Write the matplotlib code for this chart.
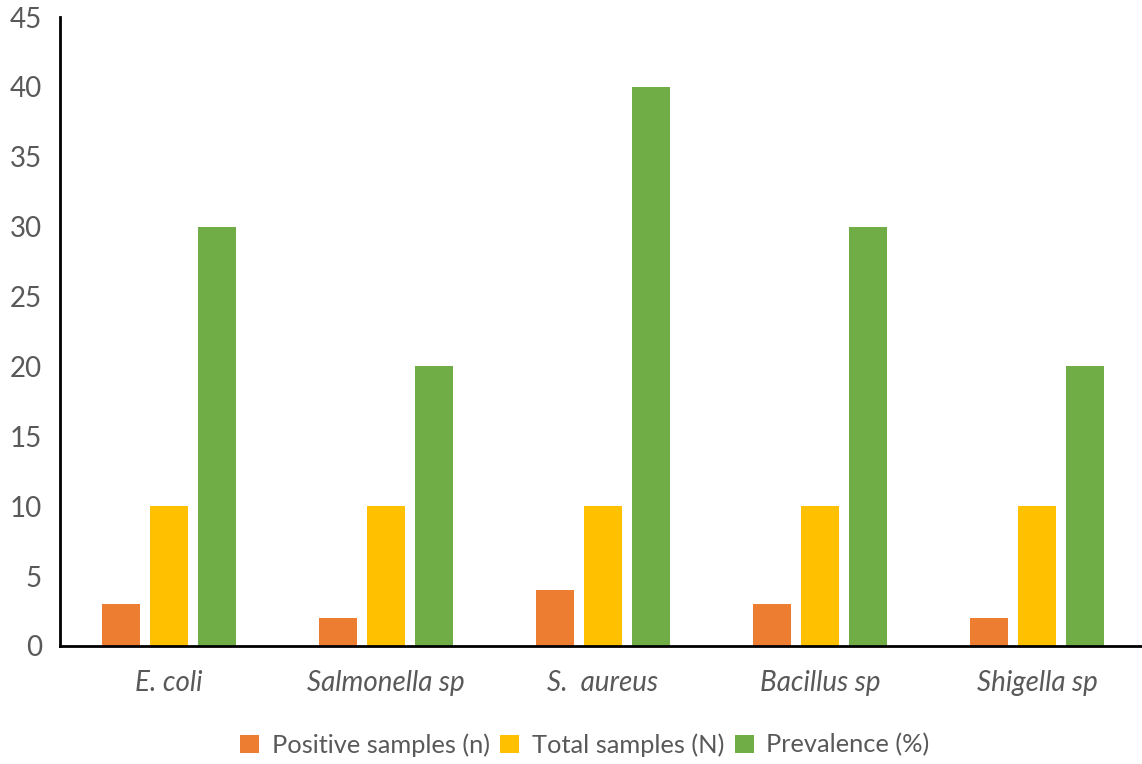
import matplotlib.pyplot as plt
import numpy as np

# bacterial isolates and counts
organisms = ['E. coli', 'Salmonella sp', 'S.  aureus', 'Bacillus sp', 'Shigella sp']
positive = [3, 2, 4, 3, 2]
total = [10, 10, 10, 10, 10]
prevalence = [30, 20, 40, 30, 20]

series = [
    ('Positive samples (n)', positive, '#ED7D31'),
    ('Total samples (N)', total, '#FFC000'),
    ('Prevalence (%)', prevalence, '#70AD47'),
]

plt.rcParams['font.family'] = ['Lato', 'DejaVu Sans']

fig = plt.figure(figsize=(11.42, 7.64), dpi=100)
ax = fig.add_axes([60 / 1142, 1 - 646 / 764, 1086 / 1142, 629 / 764])

x = np.arange(len(organisms))
bar_w = 38 / 217
step = 48 / 217
for i, (label, vals, color) in enumerate(series):
    ax.bar(x + (i - 1) * step, vals, width=bar_w, color=color, label=label)

ax.set_xlim(-0.5, len(organisms) - 0.5)
ax.set_ylim(0, 45)
ax.set_yticks(range(0, 46, 5))
ax.set_xticks(x)
ax.set_xticklabels(organisms, fontstyle='italic', fontsize=20)
ax.tick_params(axis='both', length=0, labelcolor='#595959')
ax.tick_params(axis='y', labelsize=20, pad=13)
ax.tick_params(axis='x', pad=17)

for side in ['top', 'right']:
    ax.spines[side].set_visible(False)
for side in ['left', 'bottom']:
    ax.spines[side].set_linewidth(2)
    ax.spines[side].set_color('black')

leg = fig.legend(loc='center', bbox_to_anchor=(585 / 1142, 1 - 745 / 764), ncol=3,
                 frameon=False, fontsize=18.3, handlelength=0.75, handleheight=0.75,
                 handletextpad=0.5, columnspacing=0.4)
for t in leg.get_texts():
    t.set_color('#595959')

fig.savefig('out.png', dpi=100)
